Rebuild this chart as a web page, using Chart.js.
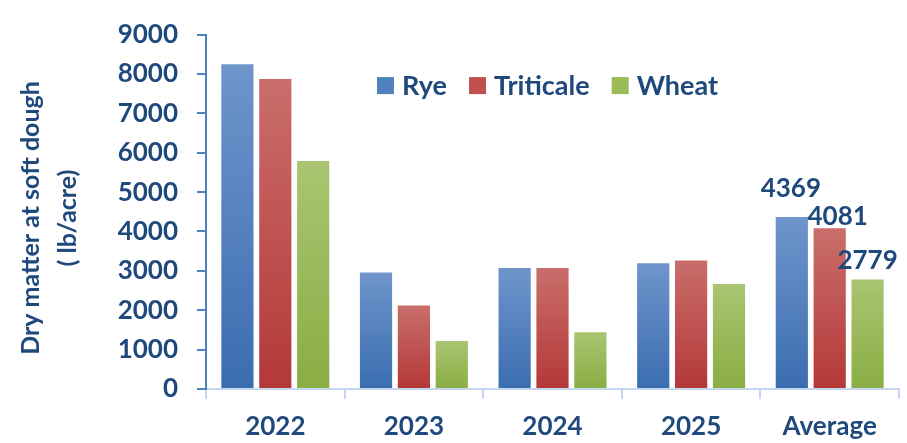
<!DOCTYPE html>
<html>
<head>
<meta charset="utf-8">
<script src="https://cdn.jsdelivr.net/npm/chart.js@4/dist/chart.umd.min.js"></script>
<style>
  html, body { margin: 0; padding: 0; background: #ffffff; }
  #wrap { width: 907px; height: 443px; }
</style>
</head>
<body>
<div id="wrap"><canvas id="c" width="907" height="443"></canvas></div>
<script>
// Dry matter yield at soft dough stage (lb/acre)
const categories = ['2022', '2023', '2024', '2025', 'Average'];
const rye       = [8250, 2960, 3070, 3195, 4369];
const triticale = [7870, 2120, 3070, 3264, 4081];
const wheat     = [5790, 1220, 1440, 2666, 2779];
const seriesNames = ['Rye', 'Triticale', 'Wheat'];
const yTickValues = [0, 1000, 2000, 3000, 4000, 5000, 6000, 7000, 8000, 9000];
const yTitleLines = ['Dry matter at soft dough', '( lb/acre)'];

const TEXT = '#1F497D';
const FONT = 'Lato, "Open Sans", sans-serif';

// Vertical gradient from light top to deep bottom, per bar
function barFill(top, bottom) {
  return (ctx) => {
    const chart = ctx.chart;
    if (!chart.chartArea || ctx.type !== 'data' || !ctx.parsed) return bottom;
    const ys = chart.scales.y;
    const y0 = ys.getPixelForValue(ctx.parsed.y);
    const y1 = ys.getPixelForValue(0);
    const g = chart.ctx.createLinearGradient(0, y0, 0, y1);
    g.addColorStop(0, top);
    g.addColorStop(1, bottom);
    return g;
  };
}

const palette = [
  { top: '#6F95CB', bottom: '#3A6DB0', key: '#4F81BD' },
  { top: '#C96E6B', bottom: '#B43838', key: '#C0504D' },
  { top: '#A9C571', bottom: '#8AAD44', key: '#9BBB59' }
];

// Legend drawn inside the plot area, near its top
const innerLegend = {
  id: 'innerLegend',
  afterDatasetsDraw(chart) {
    const { ctx, chartArea } = chart;
    ctx.save();
    ctx.font = 'bold 27px ' + FONT;
    const box = 17, gapText = 8, gapItem = 22;
    const items = chart.data.datasets.map((d, i) => ({ label: d.label, color: palette[i].key, w: ctx.measureText(d.label).width }));
    const total = items.reduce((s, it) => s + box + gapText + it.w, 0) + gapItem * (items.length - 1);
    let x = (chartArea.left + chartArea.right) / 2 - 5 - total / 2;
    const cy = chartArea.top + 51;
    ctx.textBaseline = 'middle';
    ctx.textAlign = 'left';
    items.forEach(it => {
      ctx.fillStyle = it.color;
      ctx.fillRect(x, cy - box / 2, box, box);
      x += box + gapText;
      ctx.fillStyle = TEXT;
      ctx.fillText(it.label, x, cy + 1);
      x += it.w + gapItem;
    });
    ctx.restore();
  }
};

// Value labels above the "Average" group
const avgLabels = {
  id: 'avgLabels',
  afterDatasetsDraw(chart) {
    const { ctx } = chart;
    const idx = categories.length - 1;
    const shifts = [{ dx: -1, dy: -28 }, { dx: 8, dy: -12 }, { dx: 0, dy: -19 }];
    ctx.save();
    ctx.font = 'bold 26px ' + FONT;
    ctx.fillStyle = TEXT;
    ctx.textAlign = 'center';
    ctx.textBaseline = 'middle';
    chart.data.datasets.forEach((d, i) => {
      const bar = chart.getDatasetMeta(i).data[idx];
      ctx.fillText(String(d.data[idx]), bar.x + shifts[i].dx, bar.y + shifts[i].dy);
    });
    ctx.restore();
  }
};

// Two-line rotated title for the value axis
const yTitle = {
  id: 'yTitle',
  afterDraw(chart) {
    const { ctx } = chart;
    ctx.save();
    ctx.font = 'bold 25px ' + FONT;
    ctx.fillStyle = TEXT;
    ctx.textAlign = 'center';
    ctx.textBaseline = 'middle';
    ctx.translate(30.5, 218);
    ctx.rotate(-Math.PI / 2);
    yTitleLines.forEach((t, i) => ctx.fillText(t, 0, i * 37.5));
    ctx.restore();
  }
};

new Chart(document.getElementById('c'), {
  type: 'bar',
  data: {
    labels: categories,
    datasets: [rye, triticale, wheat].map((vals, i) => ({
      label: seriesNames[i],
      data: vals,
      backgroundColor: barFill(palette[i].top, palette[i].bottom),
      borderWidth: 0,
      categoryPercentage: 0.82,
      barPercentage: 0.85
    }))
  },
  options: {
    responsive: false,
    animation: false,
    layout: { padding: { top: 21, right: 8, left: 0, bottom: 0 } },
    plugins: {
      legend: { display: false },
      tooltip: { enabled: false }
    },
    scales: {
      x: {
        afterFit(s) { s.height = 54; },
        border: { display: true, color: '#C5D7EE', width: 2 },
        grid: { offset: true, drawOnChartArea: false, drawTicks: true, tickLength: 10, color: '#C5D7EE', lineWidth: 2 },
        ticks: { color: TEXT, font: { family: FONT, size: 26, weight: 'bold' }, padding: 12 }
      },
      y: {
        min: 0,
        max: 9000,
        afterFit(s) { s.width = 206; },
        afterBuildTicks(s) { s.ticks = yTickValues.map(v => ({ value: v })); },
        border: { display: true, color: '#4F81BD', width: 2 },
        grid: { drawOnChartArea: false, drawTicks: true, tickLength: 9, color: '#4F81BD', lineWidth: 2 },
        ticks: {
          color: TEXT,
          font: { family: FONT, size: 26, weight: 'bold' },
          padding: 19,
          callback: (v) => String(v)
        }
      }
    }
  },
  plugins: [innerLegend, avgLabels, yTitle]
});
</script>
</body>
</html>
